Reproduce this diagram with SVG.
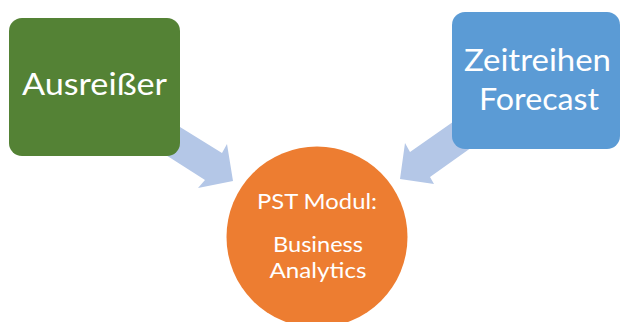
<svg xmlns="http://www.w3.org/2000/svg" width="621" height="322" viewBox="0 0 621 322">
<style>
.arrow{fill:#B4C7E7;}
.lbl{font-family:Lato,"Open Sans","Liberation Sans",sans-serif;fill:#FFFFFF;text-anchor:middle;}
.big{font-size:31px;}
.small{font-size:22px;}
</style>
<rect width="621" height="322" fill="#FFFFFF"/>
<g id="connectors">
<polygon class="arrow" points="159,114 222,153 227,144 233,181 198,188 205,180 158,150"/>
<polygon class="arrow" points="470,110 410,152 405,143 400,179 434,184 430,177 482,140"/>
</g>
<g id="node-ausreisser">
<rect x="9" y="18" width="171" height="138" rx="13" fill="#548235"/>
<text class="lbl big" x="94.5" y="95" textLength="145" lengthAdjust="spacingAndGlyphs">Ausreißer</text>
</g>
<g id="node-zeitreihen">
<rect x="452" y="12" width="168" height="137" rx="13" fill="#5B9BD5"/>
<text class="lbl big" x="537.5" y="71" textLength="147" lengthAdjust="spacingAndGlyphs">Zeitreihen</text>
<text class="lbl big" x="539" y="110" textLength="120" lengthAdjust="spacingAndGlyphs">Forecast</text>
</g>
<g id="node-pst">
<circle cx="317" cy="237" r="90.5" fill="#ED7D31"/>
<text class="lbl small" x="317" y="209" textLength="120" lengthAdjust="spacingAndGlyphs">PST Modul:</text>
<text class="lbl small" x="318" y="252" textLength="90" lengthAdjust="spacingAndGlyphs">Business</text>
<text class="lbl small" x="318" y="278" textLength="97" lengthAdjust="spacingAndGlyphs">Analytics</text>
</g>
</svg>
